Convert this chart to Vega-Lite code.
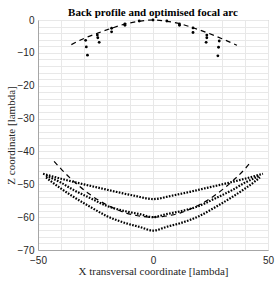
{
  "$schema": "https://vega.github.io/schema/vega-lite/v6.json",
  "autosize": {"type": "none"},
  "padding": {"left": 38, "top": 20, "right": 10, "bottom": 34},
  "width": 230,
  "height": 230,
  "background": "white",
  "config": {
    "view": {"stroke": "#a6a6a6", "strokeWidth": 1},
    "axis": {
      "domainColor": "#a6a6a6",
      "labelFont": "Liberation Sans",
      "labelFontSize": 10,
      "labelColor": "#262626",
      "labelOverlap": false,
      "titleFont": "Liberation Serif",
      "titleFontSize": 11,
      "titleFontWeight": "normal",
      "titleColor": "#262626",
      "gridColor": "#e8e8e8",
      "gridWidth": 1,
      "tickSize": 0
    }
  },
  "title": {
    "text": "Back profile and optimised focal arc",
    "font": "Liberation Serif",
    "fontSize": 11,
    "fontWeight": "bold",
    "color": "#000000",
    "anchor": "middle",
    "offset": -3
  },
  "resolve": {"axis": {"x": "independent", "y": "independent"}},
  "datasets": {
    "arc": [
      {"x": -35.5, "z": -7.5}, {"x": -30, "z": -5.6}, {"x": -24, "z": -4.0}, {"x": -18, "z": -2.5},
      {"x": -12, "z": -1.2}, {"x": -6, "z": -0.4}, {"x": 0, "z": 0}, {"x": 6, "z": -0.4},
      {"x": 12, "z": -1.2}, {"x": 18, "z": -2.5}, {"x": 24, "z": -4.0}, {"x": 30, "z": -5.7},
      {"x": 36.5, "z": -7.7}
    ],
    "profile": [
      {"x": 0, "z": 0}, {"x": -6, "z": -0.3}, {"x": 6, "z": -0.3},
      {"x": -12.2, "z": -1.2}, {"x": -12.2, "z": -1.6}, {"x": 11.5, "z": -1.2}, {"x": 11.5, "z": -1.6},
      {"x": -18, "z": -2.5}, {"x": -18, "z": -3.6}, {"x": 17.4, "z": -2.4}, {"x": 17.4, "z": -3.8},
      {"x": -24.2, "z": -4.6}, {"x": -24, "z": -5.4}, {"x": -23.4, "z": -6.8},
      {"x": 23.4, "z": -4.6}, {"x": 23.4, "z": -5.4}, {"x": 23.1, "z": -6.8},
      {"x": -29.3, "z": -6.2}, {"x": -29, "z": -8.2}, {"x": -28.5, "z": -10.7},
      {"x": 28.8, "z": -6.4}, {"x": 28.5, "z": -8.3}, {"x": 28.2, "z": -10.9}
    ],
    "curves": [
      {"c": "A", "x": -47.8, "z": -46.8}, {"c": "A", "x": -40, "z": -48.3}, {"c": "A", "x": -32, "z": -49.7},
      {"c": "A", "x": -24, "z": -51.0}, {"c": "A", "x": -16, "z": -52.3}, {"c": "A", "x": -8, "z": -53.5},
      {"c": "A", "x": 0, "z": -54.5}, {"c": "A", "x": 8, "z": -53.5}, {"c": "A", "x": 16, "z": -52.3},
      {"c": "A", "x": 24, "z": -51.0}, {"c": "A", "x": 32, "z": -49.7}, {"c": "A", "x": 40, "z": -48.3},
      {"c": "A", "x": 47.8, "z": -46.8},
      {"c": "B", "x": -46.5, "z": -47.4}, {"c": "B", "x": -40, "z": -49.5}, {"c": "B", "x": -34.6, "z": -51.7},
      {"c": "B", "x": -27, "z": -54.3}, {"c": "B", "x": -20, "z": -56.6}, {"c": "B", "x": -12, "z": -58.2},
      {"c": "B", "x": -5.7, "z": -59.1}, {"c": "B", "x": 0, "z": -60}, {"c": "B", "x": 5.7, "z": -59.1},
      {"c": "B", "x": 12, "z": -58.2}, {"c": "B", "x": 20, "z": -56.6}, {"c": "B", "x": 27, "z": -54.3},
      {"c": "B", "x": 34.6, "z": -51.7}, {"c": "B", "x": 40, "z": -49.5}, {"c": "B", "x": 46.5, "z": -47.4},
      {"c": "C", "x": -46.5, "z": -47.9}, {"c": "C", "x": -44, "z": -49.3}, {"c": "C", "x": -40, "z": -51.3},
      {"c": "C", "x": -34.6, "z": -53.8}, {"c": "C", "x": -27, "z": -57.0}, {"c": "C", "x": -20, "z": -59.7},
      {"c": "C", "x": -12, "z": -61.8}, {"c": "C", "x": -5.7, "z": -63.0}, {"c": "C", "x": 0, "z": -64.1},
      {"c": "C", "x": 5.7, "z": -63.0}, {"c": "C", "x": 12, "z": -61.8}, {"c": "C", "x": 20, "z": -59.7},
      {"c": "C", "x": 27, "z": -57.0}, {"c": "C", "x": 34.6, "z": -53.8}, {"c": "C", "x": 40, "z": -51.3},
      {"c": "C", "x": 44, "z": -49.3}, {"c": "C", "x": 46.5, "z": -47.9}
    ],
    "focal": [
      {"x": -43, "z": -43.0}, {"x": -40, "z": -45.3}, {"x": -36, "z": -48.1}, {"x": -32, "z": -50.6},
      {"x": -28, "z": -52.8}, {"x": -24, "z": -54.7}, {"x": -20, "z": -56.3}, {"x": -16, "z": -57.6},
      {"x": -12, "z": -58.7}, {"x": -8, "z": -59.4}, {"x": -4, "z": -59.85}, {"x": 0, "z": -60},
      {"x": 4, "z": -59.85}, {"x": 8, "z": -59.4}, {"x": 12, "z": -58.7}, {"x": 16, "z": -57.6},
      {"x": 20, "z": -56.3}, {"x": 24, "z": -54.7}, {"x": 28, "z": -52.8}, {"x": 32, "z": -50.6},
      {"x": 36, "z": -48.1}, {"x": 40, "z": -45.3}, {"x": 42.5, "z": -43.2}
    ]
  },
  "layer": [
    {
      "data": {"name": "arc"},
      "mark": {"type": "line", "color": "#000000", "strokeWidth": 1.2, "strokeDash": [5, 4], "interpolate": "monotone"},
      "encoding": {
        "x": {
          "field": "x", "type": "quantitative",
          "scale": {"domain": [-50, 50], "nice": false, "zero": false},
          "axis": {
            "values": [-50, -40, -30, -20, -10, 0, 10, 20, 30, 40, 50],
            "labels": false, "ticks": false, "domain": false, "title": null, "grid": true,
            "orient": "bottom"
          }
        },
        "y": {
          "field": "z", "type": "quantitative",
          "scale": {"domain": [-70, 0], "nice": false, "zero": false},
          "axis": {
            "values": [0, -2, -4, -6, -8, -10, -12, -14, -16, -18, -20, -22, -24, -26, -28, -30, -32, -34, -36, -38, -40, -42, -44, -46, -48, -50, -52, -54, -56, -58, -60, -62, -64, -66, -68, -70],
            "labels": false, "ticks": false, "domain": false, "title": null, "grid": true,
            "orient": "left"
          }
        }
      }
    },
    {
      "data": {"name": "profile"},
      "mark": {"type": "point", "filled": true, "color": "#000000", "size": 8, "opacity": 1},
      "encoding": {
        "x": {
          "field": "x", "type": "quantitative",
          "axis": {
            "values": [-50, 0, 50],
            "grid": false,
            "orient": "bottom",
            "labelPadding": 5,
            "labelFlush": false,
            "title": "X transversal coordinate [lambda]",
            "titlePadding": 0
          }
        },
        "y": {
          "field": "z", "type": "quantitative",
          "axis": {
            "values": [0, -10, -20, -30, -40, -50, -60, -70],
            "grid": false,
            "orient": "left",
            "labelPadding": 4,
            "labelFlush": false,
            "title": "Z coordinate [lambda]",
            "titlePadding": 1
          }
        }
      }
    },
    {
      "data": {"name": "curves"},
      "mark": {"type": "line", "color": "#000000", "strokeWidth": 2.2, "strokeDash": [1.6, 1.4], "interpolate": "monotone"},
      "encoding": {
        "x": {"field": "x", "type": "quantitative", "axis": null},
        "y": {"field": "z", "type": "quantitative", "axis": null},
        "detail": {"field": "c", "type": "nominal"}
      }
    },
    {
      "data": {"name": "focal"},
      "mark": {"type": "line", "color": "#000000", "strokeWidth": 1.2, "strokeDash": [5, 4], "interpolate": "monotone"},
      "encoding": {
        "x": {"field": "x", "type": "quantitative", "axis": null},
        "y": {"field": "z", "type": "quantitative", "axis": null}
      }
    }
  ]
}
